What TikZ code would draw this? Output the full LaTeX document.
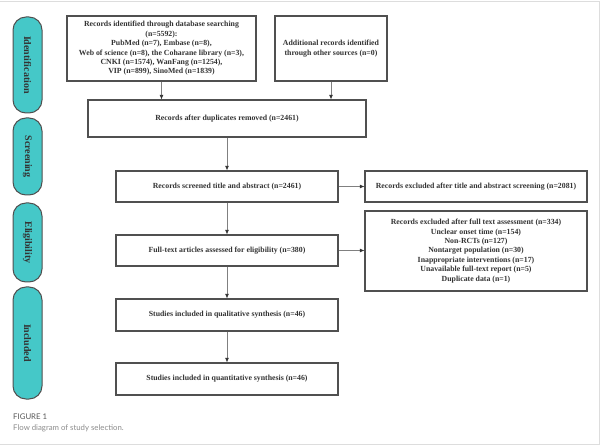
\documentclass[tikz,border=0pt]{standalone}
\usepackage{fontspec}
\setmainfont{Liberation Serif}
\newfontfamily\capfont{Lato}
\usetikzlibrary{arrows.meta}
\definecolor{pillfill}{HTML}{45C8C8}
\definecolor{boxline}{HTML}{505050}
\definecolor{txt}{HTML}{333333}
\definecolor{arrowc}{HTML}{808080}
\definecolor{framec}{HTML}{DDDDDD}
\tikzset{
  box/.style={draw=boxline, line width=1.1pt, fill=white, align=center, inner sep=1pt,
    font=\fontsize{7.8}{9.4}\selectfont\bfseries, text=txt},
  pill/.style={draw=boxline, line width=1pt, fill=pillfill, rounded corners=13pt,
    minimum width=29pt},
  pilltext/.style={rotate=-90, font=\fontsize{10}{12}\selectfont\bfseries, text=txt},
  arr/.style={draw=arrowc, line width=0.8pt, -{Latex[length=4.5pt,width=4pt,color=black!80]}},
}
\begin{document}
\begin{tikzpicture}[x=1pt,y=-1pt]
\useasboundingbox (0,0) rectangle (600,446);
\fill[white] (0,0) rectangle (600,446);
\draw[framec, line width=1pt] (0,1.5) -- (599,1.5) -- (599,444) -- (0,444);

% phase pills
\node[pill, minimum height=96pt] (p1) at (27.5,65) {};
\node[pilltext] at (p1.center) {Identification};
\node[pill, minimum height=77pt] (p2) at (27.5,156.5) {};
\node[pilltext] at (p2.center) {Screening};
\node[pill, minimum height=79pt] (p3) at (27.5,242.5) {};
\node[pilltext] at (p3.center) {Eligibility};
\node[pill, minimum height=112pt] (p4) at (27.5,343) {};
\node[pilltext] at (p4.center) {Included};

% boxes
\node[box, minimum width=189pt, minimum height=65pt] (b1) at (161.5,48.5)
  {Records identified through database searching\\(n=5592):\\PubMed (n=7), Embase (n=8),\\Web of science (n=8), the Coharane library (n=3),\\CNKI (n=1574), WanFang (n=1254),\\VIP (n=899), SinoMed (n=1839)};
\node[box, minimum width=112pt, minimum height=65pt] (b2) at (331,48.5)
  {Additional records identified\\through other sources (n=0)};
\node[box, minimum width=278pt, minimum height=37pt] (b3) at (227,118.5)
  {Records after duplicates removed (n=2461)};
\node[box, minimum width=222pt, minimum height=31pt] (b4) at (227,186.5)
  {Records screened title and abstract (n=2461)};
\node[box, minimum width=222pt, minimum height=31pt] (e1) at (476,186.5)
  {Records excluded after title and abstract screening (n=2081)};
\node[box, minimum width=222pt, minimum height=31pt] (b5) at (227,250.5)
  {Full-text articles assessed for eligibility (n=380)};
\node[box, minimum width=222pt, minimum height=80pt] (e2) at (476,251)
  {Records excluded after full text assessment (n=334)\\Unclear onset time (n=154)\\Non-RCTs (n=127)\\Nontarget population (n=30)\\Inappropriate interventions (n=17)\\Unavailable full-text report (n=5)\\Duplicate data (n=1)};
\node[box, minimum width=222pt, minimum height=32pt] (b6) at (227,315)
  {Studies included in qualitative synthesis (n=46)};
\node[box, minimum width=222pt, minimum height=32pt] (b7) at (227,379)
  {Studies included in quantitative synthesis (n=46)};

% connectors
\draw[arr] (b1.south) -- (b1.south |- b3.north);
\draw[arr] (b2.south) -- (b2.south |- b3.north);
\draw[arr] (b3.south) -- (b4.north);
\draw[arr] (b4.east) -- (e1.west);
\draw[arr] (b4.south) -- (b5.north);
\draw[arr] (b5.east) -- (b5.east -| e2.west);
\draw[arr] (b5.south) -- (b6.north);
\draw[arr] (b6.south) -- (b7.north);

% caption
\node[anchor=west, inner sep=0pt, font=\capfont\fontsize{7.8}{9}\selectfont, text=black!65] (c1) at (13,417) {FIGURE 1};
\node[anchor=west, inner sep=0pt, font=\capfont\fontsize{7.8}{9}\selectfont, text=black!45] (c2) at (13,428.5) {Flow diagram of study selection.};
\end{tikzpicture}
\end{document}
